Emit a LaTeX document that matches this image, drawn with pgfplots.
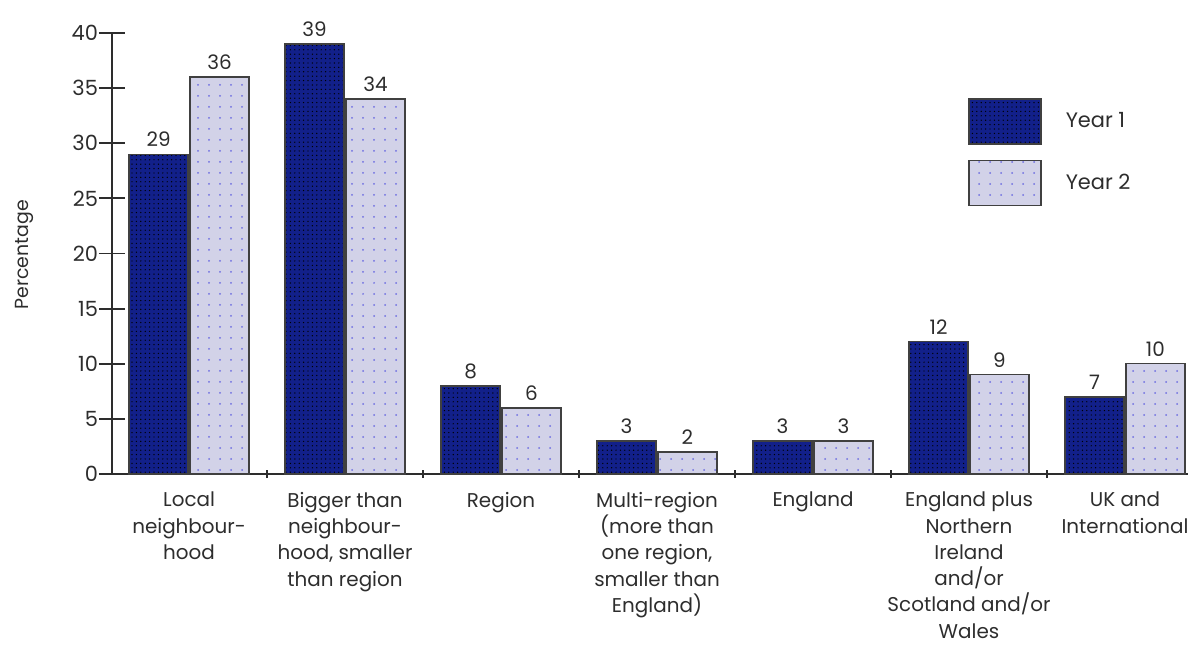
\documentclass[border=0pt]{standalone}
\usepackage{fontspec}
\setmainfont{Poppins}
\usepackage{pgfplots}
\pgfplotsset{compat=1.18}
\usetikzlibrary{patterns.meta,calc}

\definecolor{yrone}{RGB}{18,32,138}
\definecolor{yrtwo}{RGB}{210,210,232}
\definecolor{yrtwodot}{RGB}{110,110,225}
\definecolor{txt}{RGB}{45,45,45}

\pgfplotstableread{
x  y1  y2
0  29  36
1  39  34
2  8   6
3  3   2
4  3   3
5  12  9
6  7   10
}\reachdata

\begin{document}
\begin{tikzpicture}
\begin{axis}[
  name=ax, scale only axis, width=538bp, height=220.5bp,
  ybar, bar width=0.378,
  xmin=-0.494, xmax=6.404, ymin=0, ymax=40,
  axis x line=bottom, axis y line=left,
  axis line style={-, draw=txt, line width=0.9bp},
  ytick={0,5,...,40},
  major tick length=13bp, minor tick length=4bp,
  xtick={0,...,6}, minor xtick={0.5,1.5,...,5.5},
  major x tick style={draw=none},
  tick style={draw=txt, line width=0.9bp},
  xticklabels={
    {Local\\neighbour-\\hood},
    {Bigger than\\neighbour-\\hood, smaller\\than region},
    {Region},
    {Multi-region\\(more than\\one region,\\smaller than\\England)},
    {England},
    {England plus\\Northern\\Ireland\\and/or\\Scotland and/or\\Wales},
    {UK and\\International}},
  xticklabel style={align=center, font=\fontsize{10}{13.2}\selectfont, text=txt, anchor=north, yshift=1bp},
  yticklabel style={font=\fontsize{10.5}{12}\selectfont, text=txt, xshift=3bp},
  /pgf/number format/assume math mode=true,
  ylabel={Percentage},
  ylabel style={font=\fontsize{9.5}{11}\selectfont, text=txt, at={(axis description cs:-0.0809,0.497)}, anchor=center},
  nodes near coords,
  every node near coord/.append style={font=\fontsize{10}{12}\selectfont, text=txt, /pgf/number format/assume math mode=true},
  legend image code/.code={\draw[#1] (0bp,-11.25bp) rectangle (36bp,11.25bp);},
  legend style={draw=none, fill=none, at={(axis description cs:0.7955,0.853)}, anchor=north west,
    inner sep=0pt, row sep=7.5bp, font=\fontsize{10.5}{12}\selectfont, text=txt,
    cells={anchor=west},
    /tikz/every odd column/.style={column sep=10bp}},
]
\addplot[bar shift=-0.195, draw=black!75, line width=0.7bp,
  fill=yrone, postaction={pattern={Dots[distance=2.2bp,radius=0.35bp]}, pattern color=black}]
  table[x=x, y=y1] {\reachdata};
\addlegendentry{Year 1}
\addplot[bar shift=0.195, draw=black!75, line width=0.7bp,
  fill=yrtwo, postaction={pattern={Dots[distance=5.5bp,radius=0.5bp]}, pattern color=yrtwodot}]
  table[x=x, y=y2] {\reachdata};
\addlegendentry{Year 2}
\end{axis}
\pgfresetboundingbox
\path[use as bounding box] ($(ax.south west)+(-56bp,-91.5bp)$) rectangle ($(ax.north east)+(3bp,16.5bp)$);
\end{tikzpicture}
\end{document}
